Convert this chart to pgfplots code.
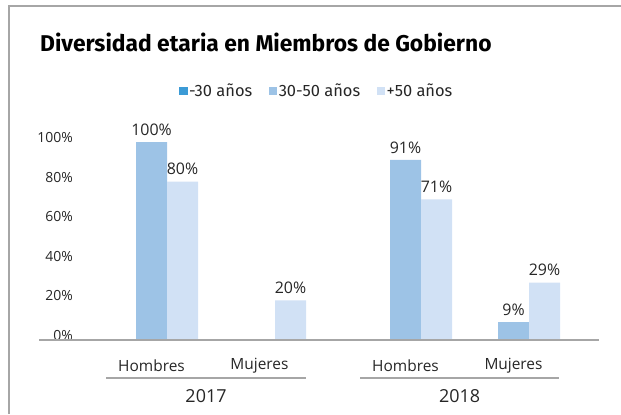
\documentclass[border=0pt]{standalone}
\usepackage{pgfplots}
\pgfplotsset{compat=1.18}
\usepackage{fontspec}
\setmainfont{Open Sans}
\newfontfamily\firafont{Fira Sans}
\definecolor{cA}{HTML}{3C9BD6}
\definecolor{cB}{HTML}{9DC3E6}
\definecolor{cC}{HTML}{D1E1F5}
\definecolor{axgray}{HTML}{A6A6A6}
\definecolor{txt}{HTML}{262626}
\begin{document}
\begin{tikzpicture}[x=1bp,y=1bp]
\useasboundingbox (0,0) rectangle (621,414);
\draw[axgray, line width=1.3bp] (9,0) -- (9,408) -- (621,408);
\node[anchor=base west, inner sep=0pt, font=\firafont\bfseries\fontsize{22.9}{25}\selectfont] at (40,363) {Diversidad etaria en Miembros de Gobierno};
\begin{axis}[
  at={(39bp,74bp)}, anchor=south west, scale only axis,
  width=560bp, height=198bp,
  xmin=39, xmax=599, ymin=0, ymax=100,
  clip=false,
  axis line style={draw=none}, major tick length=0pt,
  ytick={0,20,40,60,80,100},
  yticklabels={0\%,20\%,40\%,60\%,80\%,100\%},
  yticklabel style={anchor=east, inner sep=0pt, xshift=34bp, yshift=4.5bp, text=txt, font=\fontsize{14}{14}\selectfont},
  xtick={151.5,259.5,405.5,513.5},
  xticklabels={Hombres,Mujeres,Hombres,Mujeres},
  xticklabel style={anchor=center, inner sep=0pt, yshift=-26bp, text=txt, font=\fontsize{15.5}{16}\selectfont},
  ybar, bar width=31,
  point meta=explicit symbolic,
  every node near coord/.append style={anchor=center, yshift=12.5bp, text=txt, font=\fontsize{16}{16}\selectfont},
  legend columns=3,
  legend style={at={(0.4955,1.2576)}, anchor=center, draw=none, fill=none, inner sep=0pt,
    /tikz/every even column/.append style={column sep=15bp},
    nodes={inner sep=1.5bp, text=txt, font=\firafont\fontsize{16.5}{17}\selectfont}},
  legend image code/.code={\fill[#1] (0bp,-4.5bp) rectangle (8.5bp,4bp);},
]
\addplot[fill=cA, draw=none, bar shift=-31] coordinates {(151.5,0) (259.5,0) (405.5,0) (513.5,0)};
\addlegendentry{-30 años}
\addplot[fill=cB, draw=none, bar shift=0, nodes near coords] coordinates {(151.5,100) [100\%] (405.5,91) [91\%] (513.5,9) [9\%]};
\addlegendentry{30-50 años}
\addplot[fill=cC, draw=none, bar shift=31, nodes near coords] coordinates {(151.5,80) [80\%] (259.5,20) [20\%] (405.5,71) [71\%] (513.5,29) [29\%]};
\addlegendentry{+50 años}
\draw[axgray, line width=1.3bp] (axis cs:39,0) -- (axis cs:599,0);
\draw[axgray, line width=1.2bp] (axis cs:106,-19.2) -- (axis cs:306,-19.2);
\draw[axgray, line width=1.2bp] (axis cs:360,-19.2) -- (axis cs:559,-19.2);
\node[text=txt, font=\fontsize{18}{18}\selectfont] at (axis cs:206,-28.3) {2017};
\node[text=txt, font=\fontsize{18}{18}\selectfont] at (axis cs:459.5,-28.3) {2018};
\end{axis}
\end{tikzpicture}
\end{document}
